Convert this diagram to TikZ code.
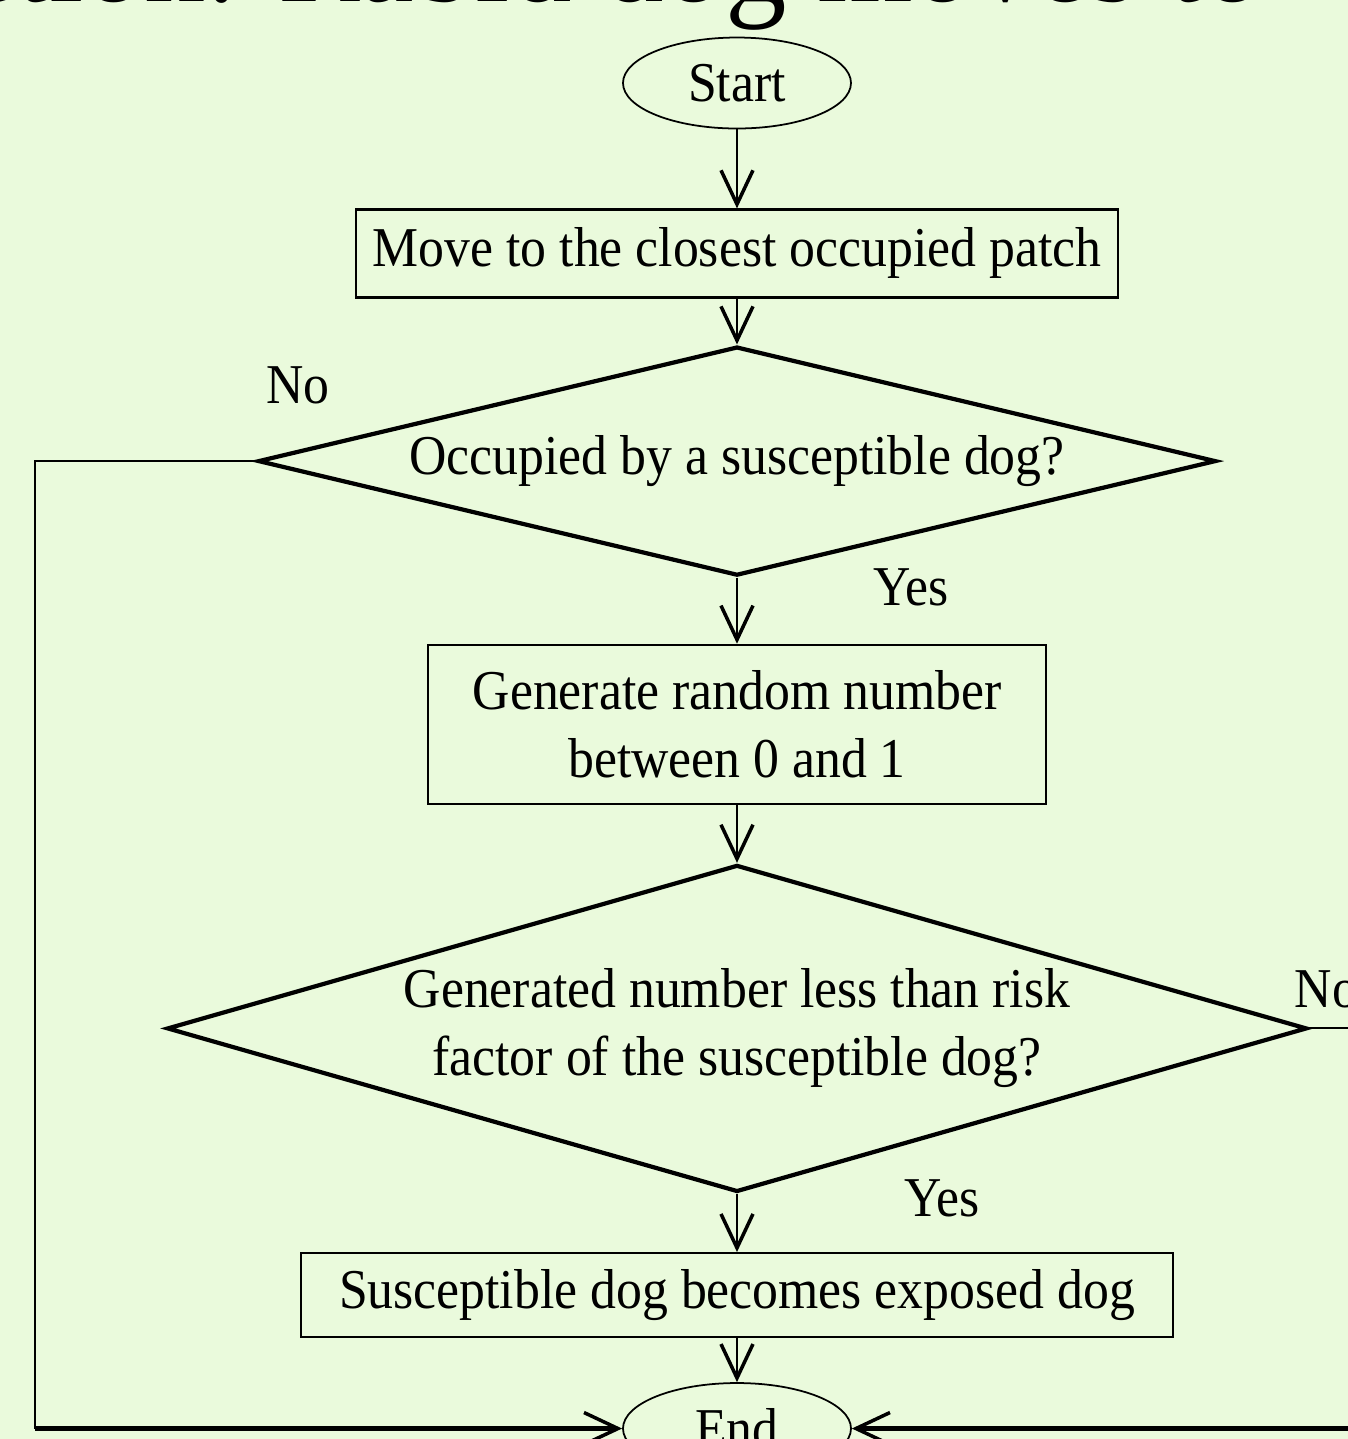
\documentclass[tikz,border=0pt]{standalone}
\usepackage{fontspec}
\setmainfont{Liberation Serif}[FakeStretch=0.92]
\usetikzlibrary{arrows.meta,positioning,shapes.geometric}
\definecolor{bgcol}{RGB}{234,250,220}

\begin{document}
\begin{tikzpicture}[font=\fontsize{16}{19.3}\selectfont]
  \tikzset{term/.style={ellipse,draw,line width=.5pt,minimum width=2.28cm,minimum height=.91cm,inner sep=0pt}};
  \tikzset{proc/.style={rectangle,draw,line width=.6pt,inner sep=0pt,align=center}};
  \tikzset{decide/.style={diamond,draw,line width=1.2pt,inner sep=0pt,align=center}};
  \tikzset{flow/.style={-{Straight Barb[length=3.4mm,width=3.2mm,line width=1pt]},line width=.6pt}};
  \tikzset{lbl/.style={inner sep=0pt}};
  \useasboundingbox[fill=bgcol] (0,0) rectangle (13.48,-14.39);
  % cut-off heading above the chart
  \node[font=\fontsize{38}{44}\selectfont,anchor=base east,inner sep=0pt] (title) at (12.65,-.01) {\scalebox{1}[1]{is infection. Rabid dog moves to}};
  \node[term] (start) at (7.37,-.83) {Start};
  \node[proc,below=.79cm of start,minimum width=7.62cm,minimum height=.88cm] (move) {Move to the closest occupied patch};
  \node[decide,below=.46cm of move,minimum width=9.58cm,minimum height=2.29cm,shape aspect=4.2] (occ) {Occupied by a susceptible dog?};
  \node[proc,below=.66cm of occ,minimum width=6.18cm,minimum height=1.59cm] (rand) {Generate random number\\between 0 and 1};
  \node[decide,below=.58cm of rand,minimum width=11.4cm,minimum height=3.27cm,shape aspect=3.5] (risk) {Generated number less than risk\\factor of the susceptible dog?};
  \node[proc,below=.58cm of risk,minimum width=8.72cm,minimum height=.84cm] (expo) {Susceptible dog becomes exposed dog};
  \node[term,below=.44cm of expo] (end) {End};
  % yes / no labels
  \node[lbl,above right=.56cm and .1cm of occ.west] (occno) {No};
  \node[lbl,below right=-.1cm and 1.36cm of occ.south] (occyes) {Yes};
  \node[lbl,below right=-.15cm and 1.67cm of risk.south] (riskyes) {Yes};
  \node[lbl,above right=.2cm and -.15cm of risk.east] (riskno) {No};
  \draw[flow] (start) -- (move);
  \draw[flow] (move) -- (occ);
  \draw[flow] (occ) -- (rand);
  \draw[flow] (rand) -- (risk);
  \draw[flow] (risk) -- (expo);
  \draw[flow] (expo) -- (end);
  % the two No branches
  \coordinate (lft) at (.35,0);
  \coordinate (rgt) at (13.8,0);
  \draw[line width=.6pt] (occ.west) -| (lft |- end.west);
  \draw[flow,line width=1.2pt] (lft |- end.west) -- (end.west);
  \draw[line width=.6pt] (risk.east) -| (rgt |- end.east);
  \draw[flow,line width=1.2pt] (rgt |- end.east) -- (end.east);
\end{tikzpicture}
\end{document}
